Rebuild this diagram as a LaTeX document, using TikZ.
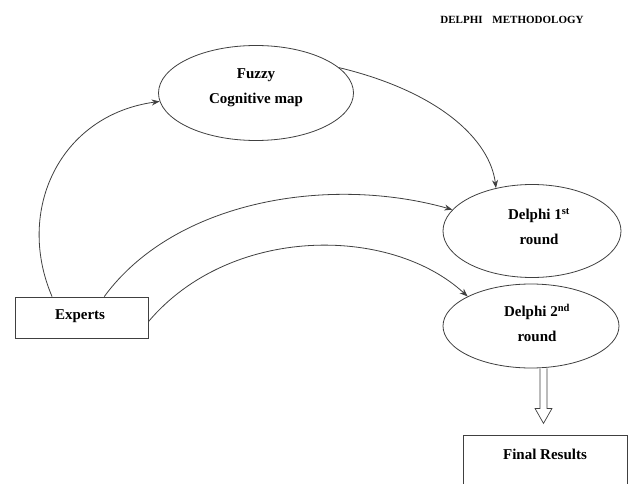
\documentclass[tikz,border=0pt]{standalone}
\usepackage{fontspec}
\setmainfont{Liberation Serif}
\usetikzlibrary{shapes.geometric,arrows.meta,calc}
\begin{document}
\begin{tikzpicture}[x=1pt,y=-1pt,
  ln/.style={draw=black!75,line width=0.8pt},
  ell/.style={ln,ellipse,inner sep=0pt},
  txt/.style={align=center,inner sep=0pt,font=\bfseries\fontsize{15}{25}\selectfont},
  boxn/.style={ln,rectangle,inner sep=0pt},
  conn/.style={ln,-{Stealth[length=8pt,width=6pt]}}]
\useasboundingbox (0,0) rectangle (635,484);
\clip (0,0) rectangle (635,484);
\fill[white] (0,0) rectangle (635,484);
\node[font=\bfseries\fontsize{11}{12}\selectfont] (title) at (512,20) {DELPHI\hspace{0.9em}METHODOLOGY};
\node[ell,minimum width=195pt,minimum height=95pt] (fcm) at (256,93) {};
\node[txt] (fcmt) at (256,88) {Fuzzy\\Cognitive map};
\node[ell,minimum width=178pt,minimum height=93pt] (d1) at (532,231) {};
\node[txt] (d1t) at (539,227) {Delphi 1\textsuperscript{st}\\round};
\node[ell,minimum width=176pt,minimum height=84pt] (d2) at (531,326) {};
\node[txt] (d2t) at (537,323) {Delphi 2\textsuperscript{nd}\\round};
\node[boxn,minimum width=133pt,minimum height=41pt] (exp) at (81.5,317.5) {};
\node[txt] (expt) at (80,316) {Experts};
\node[boxn,minimum width=164pt,minimum height=70pt,anchor=north west] (fin) at (463,435) {};
\node[txt] (fint) at (545,454) {Final Results};
% connectors
\draw[conn] ($(exp.north west)!0.28!(exp.north east)$) .. controls (15,210) and (60,115) .. (fcm.185);
\draw[conn] ($(exp.north west)!0.67!(exp.north east)$) .. controls (175,200) and (330,175) .. (d1.165);
\draw[conn] ($(exp.north east)!0.6!(exp.south east)$) .. controls (230,225) and (390,225) .. (d2.155);
\draw[conn] (fcm.17) .. controls (440,92) and (490,140) .. (d1.130);
% hollow arrow
\coordinate (ha) at ($(d2.south)+(12.5,0)$);
\draw[ln,line width=0.7pt,fill=white] ($(ha)+(-3.5,0)$) -- ++(0,40) -- ++(-5,0) -- ($(ha)+(0,55)$) -- ($(ha)+(8.5,40)$) -- ++(-5,0) -- ($(ha)+(3.5,0)$);
\end{tikzpicture}
\end{document}
